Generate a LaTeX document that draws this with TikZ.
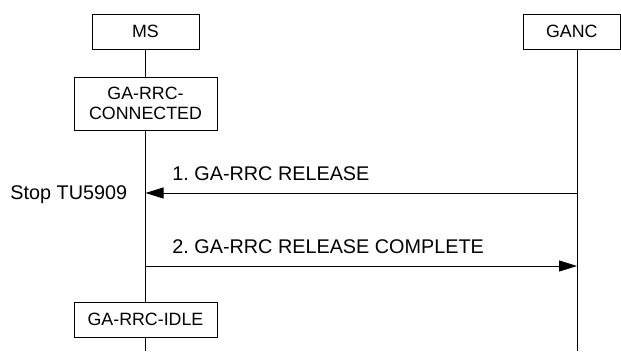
\documentclass[tikz,border=0pt]{standalone}
\usepackage{fontspec}
\setmainfont{Liberation Sans}
\usetikzlibrary{arrows.meta}

\begin{document}
\begin{tikzpicture}[x=1pt,y=-1pt,line width=0.9pt]
     \useasboundingbox (0,0) rectangle (621,351);
     \tikzstyle{box} = [draw,fill=white,inner sep=0pt,align=center,font=\fontsize{17.8}{20}\selectfont]
     \tikzstyle{msg} = [-{Triangle[length=18pt,width=11pt]}]
     \tikzstyle{lbl} = [inner sep=0pt,anchor=base west,font=\fontsize{19.8}{22}\selectfont]
     \node[box,minimum width=107pt,minimum height=35pt] (ms) at (145.5,31.5) {MS};
     \node[box,minimum width=97.5pt,minimum height=35pt] (ganc) at (571.75,31.5) {GANC};
     \node[box,minimum width=143pt,minimum height=53pt] (conn) at (145.5,103.5) {GA-RRC-\\CONNECTED};
     \node[box,minimum width=143pt,minimum height=35pt] (idle) at (145.5,319.5) {GA-RRC-IDLE};
     \coordinate (msend) at (145.5,351);
     \coordinate (gtop) at (577,49);
     \coordinate (gend) at (577,351);
     \coordinate (m1) at (145.5,193);
     \coordinate (g1) at (577,193);
     \coordinate (m2) at (145.5,266);
     \coordinate (g2) at (577,266);
     \draw (ms) to (conn);
     \draw (conn) to (idle);
     \draw (idle) to (msend);
     \draw (gtop) to (gend);
     \draw [msg] (g1) to (m1);
     \draw [msg] (m2) to (g2);
     \node[lbl] (l1) at (172,180) {1.\ GA-RRC RELEASE};
     \node[lbl] (l2) at (172,253) {2.\ GA-RRC RELEASE COMPLETE};
     \node[lbl] (stop) at (10,199.5) {Stop TU5909};
\end{tikzpicture}
\end{document}
